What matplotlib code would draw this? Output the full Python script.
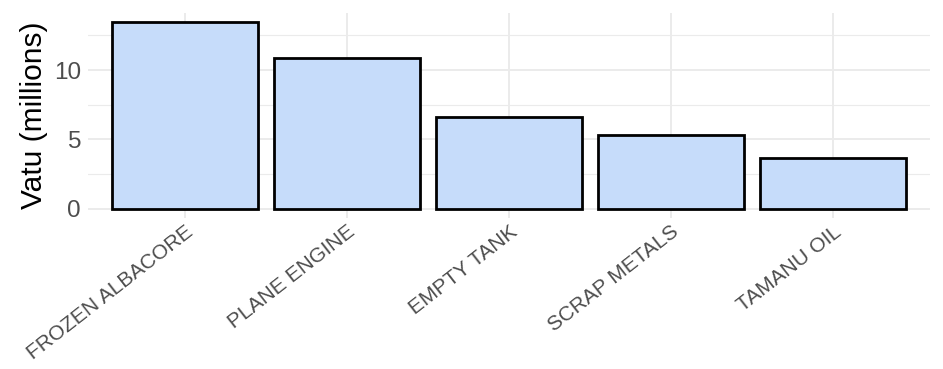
import matplotlib
matplotlib.use("Agg")
import matplotlib.pyplot as plt
from matplotlib.ticker import MultipleLocator

categories = ["FROZEN ALBACORE", "PLANE ENGINE", "EMPTY TANK", "SCRAP METALS", "TAMANU OIL"]
values = [13.45, 10.85, 6.6, 5.3, 3.65]
y_ticks = [0, 5, 10]

plt.rcParams['font.family'] = ['Liberation Sans', 'DejaVu Sans']

fig = plt.figure(figsize=(9.43, 3.69), dpi=100)
ax = fig.add_axes([88/943, (369-218)/369, 842/943, 205/369])

x = list(range(1, len(categories) + 1))
ax.bar(x, values, width=0.9, color="#c6dcfa", edgecolor="black", linewidth=2, zorder=3)

ax.set_xlim(0.4, len(categories) + 0.6)
ymax = max(values)
ax.set_ylim(-0.05 * ymax, ymax * 1.05)

ax.set_yticks(y_ticks)
ax.yaxis.set_minor_locator(MultipleLocator(2.5))
ax.set_xticks(x)
ax.set_xticklabels(categories, rotation=38, ha="right", rotation_mode="anchor",
                   fontsize=15, color="#4d4d4d")
ax.tick_params(axis="y", labelsize=17.5, labelcolor="#4d4d4d", length=0, pad=5)
ax.tick_params(axis="x", length=0, pad=3)
ax.tick_params(which="minor", length=0)

ax.grid(True, which="major", color="#ebebeb", linewidth=1.4, zorder=0)
ax.grid(True, which="minor", axis="y", color="#ebebeb", linewidth=0.8, zorder=0)
for s in ax.spines.values():
    s.set_visible(False)

ax.set_ylabel("Vatu (millions)", fontsize=21.5, color="black", labelpad=4)

fig.savefig("out.png", dpi=100, facecolor="white")
